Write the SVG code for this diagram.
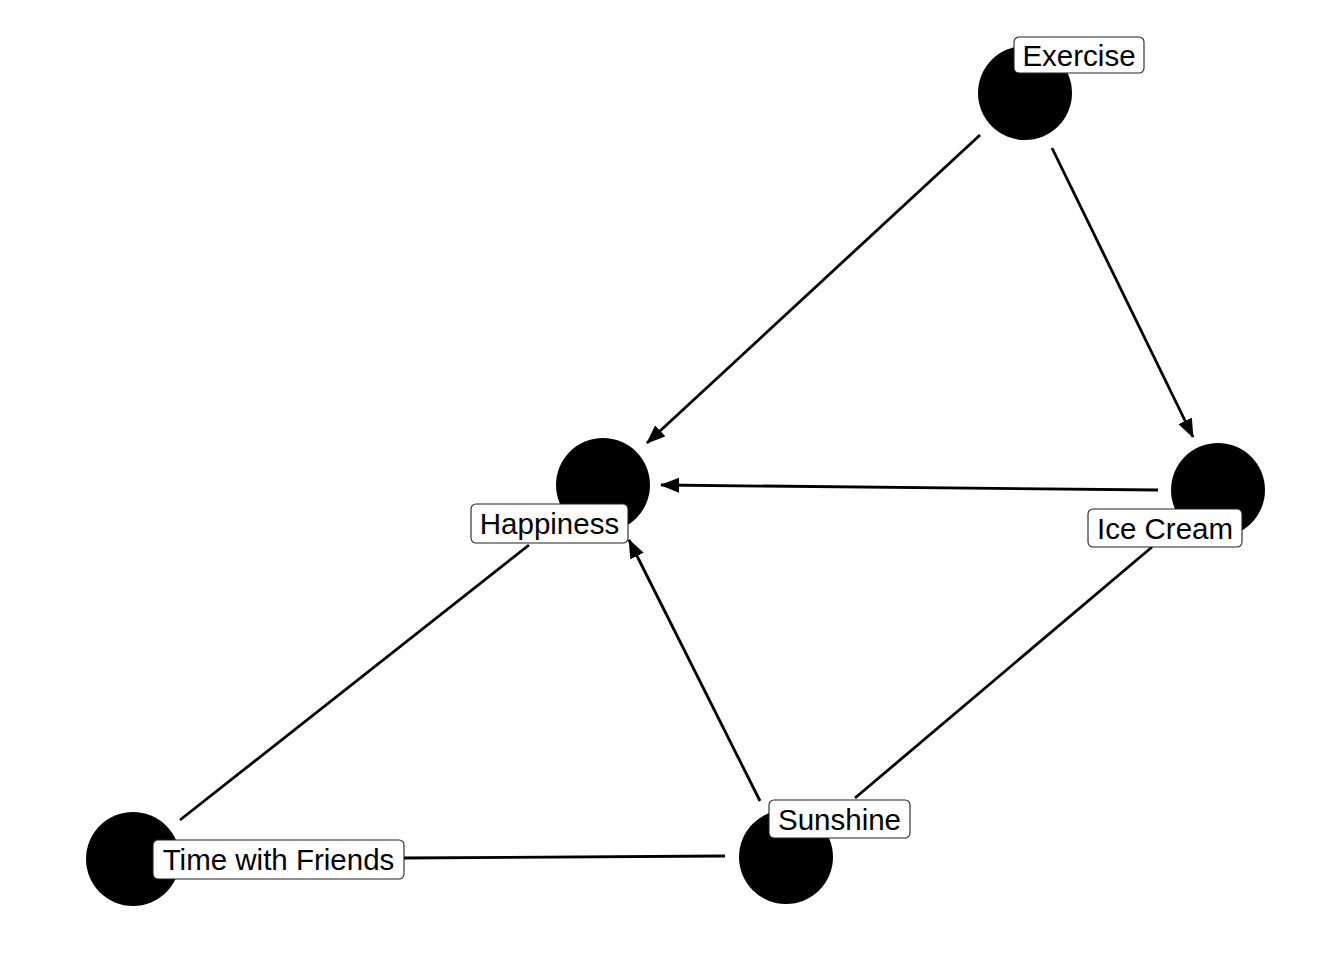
<svg xmlns="http://www.w3.org/2000/svg" width="1344" height="960" viewBox="0 0 1344 960">
  <style>
    .edge { stroke: #000; stroke-width: 2.8; fill: none; }
    .node { fill: #000; }
    .lbl-box { fill: #fff; stroke: #222; stroke-width: 1.1; }
    .lbl { font-family: "Liberation Sans", Arial, sans-serif; font-size: 29.5px; fill: #000; text-anchor: middle; dominant-baseline: central; }
  </style>
  <defs>
    <marker id="arrow" markerUnits="userSpaceOnUse" markerWidth="19" markerHeight="15" viewBox="0 0 19 15" refX="18" refY="7.5" orient="auto">
      <path d="M0,0 L19,7.5 L0,15 Z" fill="#000"/>
    </marker>
  </defs>
  <rect width="1344" height="960" fill="#fff"/>

  <g id="connectors">
    <line class="edge" x1="980" y1="135" x2="647" y2="443" marker-end="url(#arrow)"/>
    <line class="edge" x1="1052" y1="148" x2="1193" y2="437" marker-end="url(#arrow)"/>
    <line class="edge" x1="1158" y1="490" x2="661" y2="485" marker-end="url(#arrow)"/>
    <line class="edge" x1="760" y1="801" x2="629" y2="540" marker-end="url(#arrow)"/>
    <line class="edge" x1="1152" y1="547" x2="855" y2="798"/>
    <line class="edge" x1="529" y1="545" x2="180" y2="820"/>
    <line class="edge" x1="404" y1="858" x2="725" y2="856"/>
  </g>

  <g id="node-exercise">
    <circle class="node" cx="1025" cy="93" r="47"/>
    <rect class="lbl-box" x="1014" y="37" width="130" height="36" rx="5"/>
    <text class="lbl" x="1079" y="55">Exercise</text>
  </g>
  <g id="node-happiness">
    <circle class="node" cx="603" cy="485" r="47"/>
    <rect class="lbl-box" x="471" y="504" width="157" height="39" rx="5"/>
    <text class="lbl" x="549.5" y="523">Happiness</text>
  </g>
  <g id="node-ice-cream">
    <circle class="node" cx="1218" cy="490" r="47"/>
    <rect class="lbl-box" x="1088" y="509" width="154" height="38" rx="5"/>
    <text class="lbl" x="1165" y="528">Ice Cream</text>
  </g>
  <g id="node-sunshine">
    <circle class="node" cx="786" cy="857" r="47"/>
    <rect class="lbl-box" x="769" y="800" width="141" height="38" rx="5"/>
    <text class="lbl" x="839.5" y="819">Sunshine</text>
  </g>
  <g id="node-time-with-friends">
    <circle class="node" cx="133" cy="859" r="47"/>
    <rect class="lbl-box" x="153" y="840" width="251" height="39" rx="5"/>
    <text class="lbl" x="278.5" y="859">Time with Friends</text>
  </g>
</svg>
